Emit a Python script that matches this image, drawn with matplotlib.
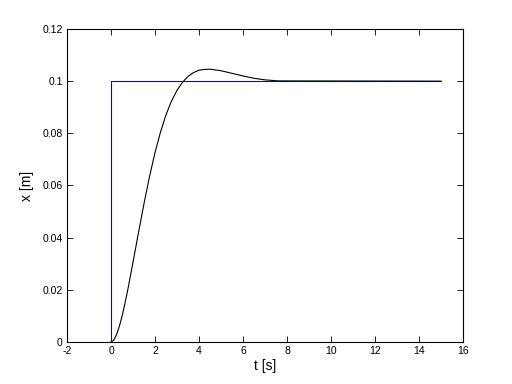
import matplotlib
matplotlib.use("Agg")
import matplotlib.pyplot as plt

# Reference (step) signal
ref_t = [0.0, 0.0, 15.0]
ref_x = [0.0, 0.1, 0.1]

# Response
resp_t = [0.0, 0.125, 0.25, 0.375, 0.5, 0.625, 0.75, 1.0, 1.25, 1.5, 1.75,
          2.0, 2.25, 2.5, 2.75, 3.0, 3.25, 3.5, 3.75, 4.0, 4.25, 4.5, 5.0,
          5.5, 6.0, 6.5, 7.0, 7.6, 15.0]
resp_x = [0.0, 0.0007, 0.0028, 0.0059, 0.0098, 0.0145, 0.0195, 0.0306,
          0.0420, 0.0531, 0.0634, 0.0726, 0.0805, 0.0871, 0.0924, 0.0965,
          0.0996, 0.1018, 0.1033, 0.1042, 0.1045, 0.1046, 0.1040, 0.1030,
          0.1020, 0.1011, 0.1005, 0.1001, 0.1000]

xticks = [-2, 0, 2, 4, 6, 8, 10, 12, 14, 16]
yticks = [0, 0.02, 0.04, 0.06, 0.08, 0.1, 0.12]
yticklabels = ["0", "0.02", "0.04", "0.06", "0.08", "0.1", "0.12"]

plt.rcParams['font.family'] = ['Liberation Sans', 'DejaVu Sans']

fig = plt.figure(figsize=(5.12, 3.84), dpi=100)
ax = fig.add_axes([0.1309, 0.1094, 0.7734, 0.8151])

ax.plot(ref_t, ref_x, color='#0000ff', lw=0.8)
ax.plot(resp_t, resp_x, color='black', lw=0.8)

ax.set_xlim(-2, 16)
ax.set_ylim(0, 0.12)
ax.set_xticks(xticks)
ax.set_xticklabels([str(v) for v in xticks])
ax.set_yticks(yticks)
ax.set_yticklabels(yticklabels)
ax.tick_params(direction='in', top=True, right=True, length=4, width=0.6,
               labelsize=7.5, pad=3)
for s in ax.spines.values():
    s.set_linewidth(0.8)

ax.set_xlabel('t [s]', fontsize=10, labelpad=2)
ax.set_ylabel('x [m]', fontsize=10, labelpad=6)

fig.savefig('out.png', dpi=100)
